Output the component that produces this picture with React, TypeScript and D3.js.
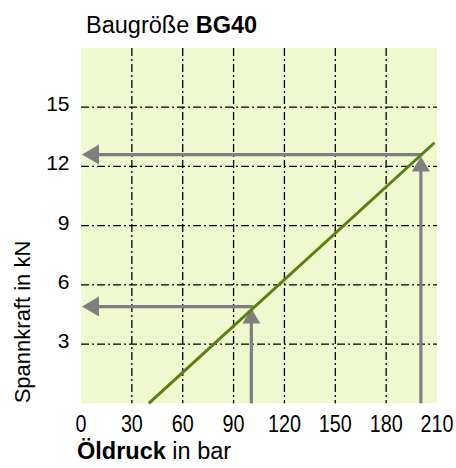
import React from "react";
import * as d3 from "d3";

const xTicks = [0, 30, 60, 90, 120, 150, 180, 210];
const yTicks = [3, 6, 9, 12, 15];
const gridX = [30, 60, 90, 120, 150, 180];
const lineData: [number, number][] = [[40, 0], [208.5, 13.2]];
const arrowPoints: { p: number; f: number }[] = [
  { p: 100.5, f: 4.8 },
  { p: 200.5, f: 12.5 },
];

const W = 456, H = 468;
const left = 81, right = 437, top = 48, bottom = 403.3;

export default function App() {
  const x = d3.scaleLinear().domain([0, 210]).range([left, right]);
  const y = d3.scaleLinear().domain([0, 18]).range([bottom, top]);
  const line = d3.line<[number, number]>().x(d => x(d[0])).y(d => y(d[1]));
  const gray = "#7f7f7f";
  const font = "Liberation Sans, Arial, sans-serif";
  return (
    <svg width={W} height={H} style={{ position: "absolute", left: 0, top: 0 }}>
      <rect x={left} y={top} width={right - left} height={bottom - top} fill="#eff8cf" />
      {gridX.map(v => (
        <line key={"gx" + v} x1={x(v)} x2={x(v)} y1={top} y2={bottom} stroke="#000" strokeWidth={1.3} strokeDasharray="8,3,2,3" />
      ))}
      {yTicks.map(v => (
        <line key={"gy" + v} x1={left} x2={right} y1={y(v)} y2={y(v)} stroke="#000" strokeWidth={1.3} strokeDasharray="8,3,2,3" />
      ))}
      {arrowPoints.map((a, i) => {
        const px = x(a.p), py = y(a.f);
        const hy = py - 2;
        return (
          <g key={"a" + i}>
            <line x1={px} x2={px} y1={bottom} y2={py + 12} stroke={gray} strokeWidth={3.2} />
            <path d={`M${px},${py} L${px - 9},${py + 15} L${px + 9},${py + 15} Z`} fill={gray} />
            <line x1={px + 1.5} x2={x(0) + 14} y1={hy} y2={hy} stroke={gray} strokeWidth={3.2} />
            <path d={`M${x(0) + 1},${hy} L${x(0) + 18},${hy - 10} L${x(0) + 18},${hy + 10} Z`} fill={gray} />
          </g>
        );
      })}
      <path d={line(lineData) || ""} fill="none" stroke="#5a800f" strokeWidth={3} />
      {xTicks.map(v => (
        <text key={"tx" + v} transform={`translate(${x(v)},432) scale(0.84,1)`} textAnchor="middle" fontFamily={font} fontSize={23.5} fill="#000">{v}</text>
      ))}
      {yTicks.map(v => (
        <text key={"ty" + v} x={69.5} y={y(v) + 4} textAnchor="end" fontFamily={font} fontSize={21} fill="#000">{v}</text>
      ))}
      <text x={86} y={33} fontFamily={font} fontSize={23.5} fill="#000">Baugröße <tspan fontWeight="bold">BG40</tspan></text>
      <text x={77} y={459} fontFamily={font} fontSize={23.5} fill="#000"><tspan fontWeight="bold">Öldruck</tspan> in bar</text>
      <text transform="translate(30,322) rotate(-90)" textAnchor="middle" fontFamily={font} fontSize={22} fill="#000">Spannkraft in kN</text>
    </svg>
  );
}
